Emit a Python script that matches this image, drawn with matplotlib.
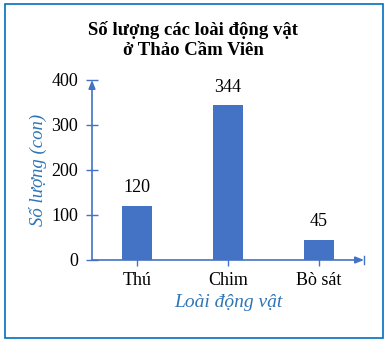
import matplotlib.pyplot as plt
from matplotlib.patches import Rectangle

categories = ["Thú", "Chim", "Bò sát"]
counts = [120, 344, 45]
y_ticks = [0, 100, 200, 300, 400]

plt.rcParams['font.family'] = ['Liberation Serif', 'DejaVu Serif']

bar_color = "#4472C4"
axis_color = "#4472C4"
label_color = "#2E75B6"

fig = plt.figure(figsize=(3.87, 3.42), dpi=100)
ax = fig.add_axes([0.2377, 0.2398, 0.7029, 0.5263])

x = list(range(len(categories)))
ax.bar(x, counts, width=0.33, color=bar_color, zorder=2)
for xi, v in zip(x, counts):
    ax.annotate(str(v), (xi, v), xytext=(0, 13), textcoords="offset points",
                ha="center", va="center", fontsize=13)

ax.set_xlim(-0.5, 2.5)
ax.set_ylim(0, 400)
ax.set_xticks(x)
ax.set_xticklabels(categories, fontsize=13)
ax.set_yticks(y_ticks)
ax.set_yticklabels([str(t) for t in y_ticks], fontsize=13)
ax.tick_params(axis="both", direction="inout", length=8, width=1, color=axis_color, pad=6)
ax.tick_params(axis="x", pad=5)

for s in ax.spines.values():
    s.set_visible(False)

# axis lines with arrow heads
ax.annotate("", xy=(-0.5, 400), xytext=(-0.5, 0), xycoords="data",
            arrowprops=dict(arrowstyle="-|>,head_length=0.5,head_width=0.2", color=axis_color, lw=1.2,
                            shrinkA=0, shrinkB=0), annotation_clip=False)
ax.annotate("", xy=(2.5, 0), xytext=(-0.5, 0), xycoords="data",
            arrowprops=dict(arrowstyle="-|>,head_length=0.5,head_width=0.2", color=axis_color, lw=1.2,
                            shrinkA=0, shrinkB=0), annotation_clip=False)
ax.plot([2.5, 2.5], [-9, 9], color=axis_color, lw=1, clip_on=False)

ax.set_xlabel("Loài động vật", fontsize=14, style="italic", color=label_color, labelpad=3)
ax.set_ylabel("Số lượng (con)", fontsize=13.5, style="italic", color=label_color, labelpad=3)

fig.text(0.5, 0.883, "Số lượng các loài động vật\nở Thảo Cầm Viên", ha="center", va="center",
         fontsize=13.5, fontweight="bold", linespacing=1.3)

fig.patches.append(Rectangle((0.012, 0.012), 0.977, 0.976, transform=fig.transFigure,
                             fill=False, edgecolor="#0070C0", lw=1.2))

fig.savefig("out.png", dpi=100)
